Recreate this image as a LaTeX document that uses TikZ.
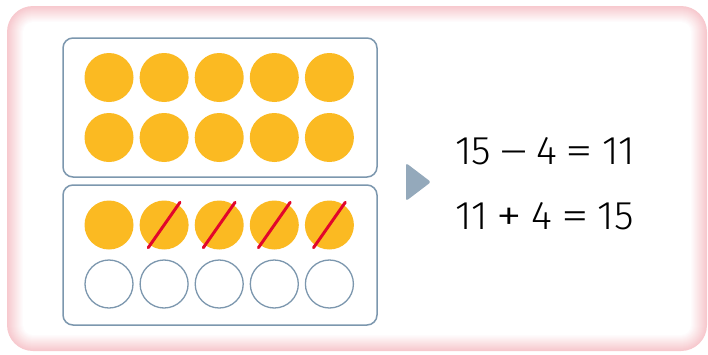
\documentclass[tikz,border=0pt]{standalone}
\usepackage{fontspec}
\newfontfamily\eqfont{Fira Sans Light}
\usetikzlibrary{positioning}
\definecolor{TrayBlue}{HTML}{7C97AE}
\definecolor{DotYellow}{HTML}{FBBA22}
\definecolor{StrikeRed}{HTML}{E2062B}
\definecolor{ArrowGrey}{HTML}{94A9BB}
\definecolor{GlowPink}{HTML}{F5BFC5}
\newcommand{\wideop}[2][1.4]{\hspace{9pt}\scalebox{#1}[1]{#2}\hspace{9pt}}
\newcommand{\bigplus}{\hspace{9pt}\raisebox{-2pt}{\scalebox{1.3}[1.15]{+}}\hspace{9pt}}
\tikzset{
  tray/.style={rounded corners=10pt, draw=TrayBlue, line width=1.5pt, fill=white},
  dot/.style={circle, minimum size=49pt, inner sep=0pt, fill=DotYellow},
  emptydot/.style={circle, minimum size=48pt, inner sep=0pt, draw=TrayBlue, line width=1.3pt},
  strike/.style={draw=StrikeRed, line width=3pt, line cap=round, shorten <=-3pt, shorten >=-3pt},
  equation/.style={font=\eqfont\fontsize{40}{42}\selectfont, inner sep=0pt, anchor=west},
}

\begin{document}
\begin{tikzpicture}[x=1pt,y=-1pt]
    \useasboundingbox (0,0) rectangle (708,354);
    % soft pink frame
    \foreach \i in {0,...,16}{
      \pgfmathsetmacro{\shade}{85-\i*5.3}
      \fill[GlowPink!\shade!white, rounded corners={26-\i}] (7+\i,6+\i) rectangle (707-\i,351-\i);
    }
    % ten-frames
    \draw[tray] (63,38) rectangle (377,177);
    \draw[tray] (63,185) rectangle (377,325);
    \foreach \k in {1,...,5}{
      \node[dot] (t1-\k) at ({109+(\k-1)*55.1},77.5) {};
      \node[dot] (t2-\k) at ({109+(\k-1)*55.1},137.5) {};
      \node[dot] (b1-\k) at ({109+(\k-1)*55.1},225) {};
      \node[emptydot] (b2-\k) at ({109+(\k-1)*55.1},284) {};
    }
    \foreach \k in {2,...,5}
      \draw[strike] (b1-\k.235) -- (b1-\k.55);
    % arrow
    \fill[ArrowGrey, rounded corners=2.5pt] (406,163) -- (431,182) -- (406,201) -- cycle;
    % equations
    \node[equation] (minus) at (455,151.5) {15\wideop[1.3]{–}4\wideop{=}11};
    \node[equation, below=37pt of minus.south west, anchor=north west] (plus) {11\bigplus4\wideop{=}15};
\end{tikzpicture}
\end{document}
